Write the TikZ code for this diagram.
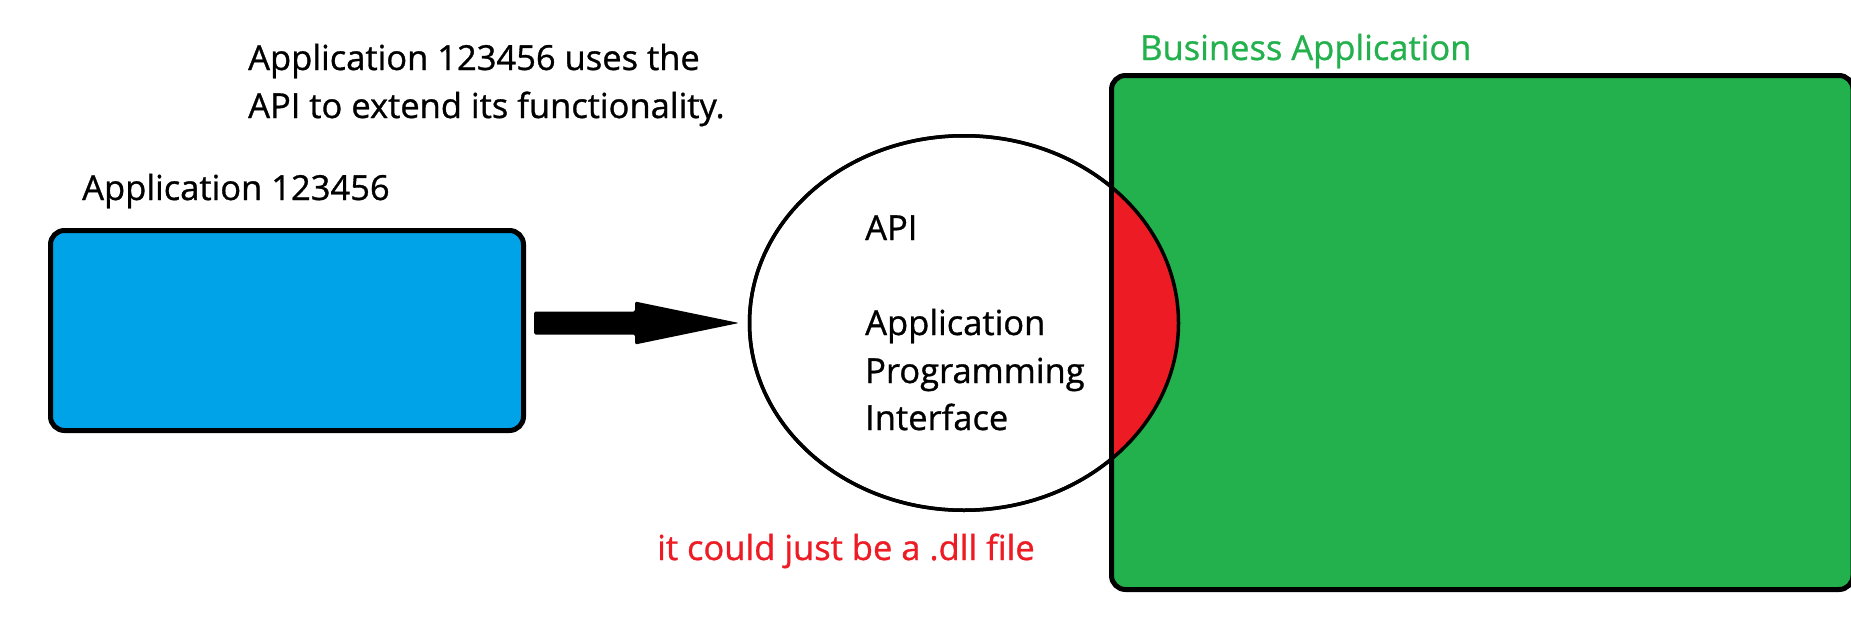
\documentclass[tikz,border=0pt]{standalone}
\usepackage{fontspec}
\setmainfont{Open Sans}
\newfontfamily\pfont{Open Sans}[FakeBold=0.9]
\usetikzlibrary{shapes.geometric,calc}
\definecolor{pblue}{HTML}{00A2E8}
\definecolor{pgreen}{HTML}{22B14C}
\definecolor{pred}{HTML}{ED1C24}
\tikzset{
  lbl/.style={anchor=base west, inner sep=0pt, font=\pfont\fontsize{34.5pt}{48pt}\selectfont},
  appbox/.style={draw=black, line width=5pt, fill=pblue, rounded corners=14pt,
    minimum width=473pt, minimum height=200pt, inner sep=0pt, outer sep=0pt},
  bizbox/.style={draw=black, line width=5pt, fill=pgreen, rounded corners=14pt,
    minimum width=741.5pt, minimum height=514pt, inner sep=0pt, outer sep=0pt},
  apiell/.style={ellipse, draw=black, line width=3.5pt, fill=white,
    minimum width=429pt, minimum height=374.5pt, inner sep=0pt, outer sep=0pt},
  bigarrow/.style={fill=black, rounded corners=1.5pt}
}
\begin{document}
\begin{tikzpicture}[x=1pt,y=-1pt]
\useasboundingbox (0,0) rectangle (1851,624);
\clip (0,0) rectangle (1851,624);
% texts
\node[lbl] (note1) at (248,70) {Application 123456 uses the};
\node[lbl] (note2) at (248,118) {API to extend its functionality.};
\node[lbl] (applbl) at (82,200) {Application 123456};
\node[lbl, text=pgreen] (bizlbl) at (1140,60) {Business Application};
% shapes
\node[appbox] (app) at (287,330.5) {};
\node[apiell] (api) at (964,323) {};
\node[bizbox] (biz) at (1482.25,332.5) {};
\begin{scope}
  \clip (biz.north west) rectangle (biz.south east);
  \fill[pred] (api.center) ellipse [x radius=214.5pt, y radius=187.25pt];
\end{scope}
\draw[line width=3.5pt] (api.center) ellipse [x radius=214.5pt, y radius=187.25pt];
\draw[line width=5pt] (biz.west |- api.north) -- (biz.west |- api.south);
% api text
\node[lbl] (apit) at (865,240) {API};
\node[lbl] (apia) at (865,335) {Application};
\node[lbl] (apip) at (865,383) {Programming};
\node[lbl] (apii) at (865,430) {Interface};
\node[lbl, text=pred] (dll) at (657,560) {it could just be a .dll file};
% arrow from app to api
\coordinate (tail) at ($(app.east |- api.west)+(10.5,0)$);
\coordinate (tip) at ($(api.west)+(-10.5,0)$);
\fill[bigarrow] ($(tail)+(0,-11.5)$) -- ($(tip)+(-104,-11.5)$) -- ($(tip)+(-104,-21.5)$)
  -- (tip) -- ($(tip)+(-104,21.5)$) -- ($(tip)+(-104,11.5)$) -- ($(tail)+(0,11.5)$) -- cycle;
\end{tikzpicture}
\end{document}
